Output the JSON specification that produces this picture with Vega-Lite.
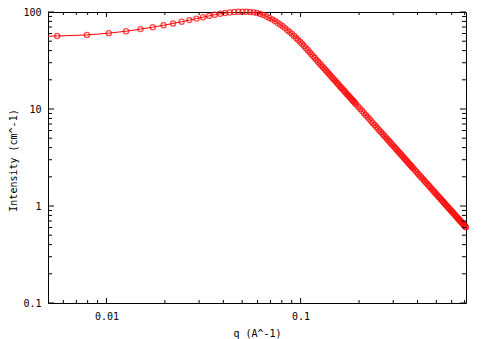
{
  "$schema": "https://vega.github.io/schema/vega-lite/v6.json",
  "autosize": "none",
  "width": 418,
  "height": 291,
  "padding": {"left": 48, "top": 12, "right": 18, "bottom": 36},
  "background": "white",
  "config": {
    "view": {"stroke": "#000000", "strokeWidth": 1},
    "axis": {
      "domain": false,
      "ticks": false,
      "labelColor": "#000000",
      "titleColor": "#000000",
      "labelFont": "DejaVu Sans Mono",
      "titleFont": "DejaVu Sans Mono",
      "labelFontSize": 10,
      "titleFontSize": 10,
      "titleFontWeight": "normal",
      "grid": false,
      "labelOverlap": false,
      "labelFlush": false
    }
  },
  "data": {
    "values": [
      {"q": 0.00323, "I": 55.3},
      {"q": 0.00558, "I": 56.6},
      {"q": 0.00793, "I": 58.0},
      {"q": 0.01028, "I": 60.5},
      {"q": 0.01263, "I": 63.4},
      {"q": 0.01498, "I": 66.6},
      {"q": 0.01733, "I": 69.8},
      {"q": 0.01968, "I": 73.0},
      {"q": 0.02203, "I": 76.2},
      {"q": 0.02438, "I": 79.4},
      {"q": 0.02673, "I": 82.5},
      {"q": 0.02908, "I": 85.5},
      {"q": 0.03143, "I": 88.4},
      {"q": 0.03378, "I": 91.2},
      {"q": 0.03613, "I": 93.7},
      {"q": 0.03848, "I": 95.9},
      {"q": 0.04083, "I": 97.6},
      {"q": 0.04318, "I": 99.0},
      {"q": 0.04553, "I": 100.0},
      {"q": 0.04788, "I": 100.6},
      {"q": 0.05023, "I": 100.8},
      {"q": 0.05258, "I": 100.6},
      {"q": 0.05493, "I": 100.0},
      {"q": 0.05728, "I": 99.2},
      {"q": 0.05963, "I": 97.9},
      {"q": 0.06198, "I": 95.6},
      {"q": 0.06433, "I": 93.0},
      {"q": 0.06668, "I": 89.8},
      {"q": 0.06903, "I": 86.8},
      {"q": 0.07138, "I": 84.0},
      {"q": 0.07373, "I": 80.7},
      {"q": 0.07608, "I": 77.4},
      {"q": 0.07843, "I": 74.3},
      {"q": 0.08078, "I": 71.5},
      {"q": 0.08313, "I": 68.2},
      {"q": 0.08548, "I": 65.1},
      {"q": 0.08783, "I": 62.2},
      {"q": 0.09018, "I": 59.5},
      {"q": 0.09253, "I": 56.7},
      {"q": 0.09488, "I": 53.9},
      {"q": 0.09723, "I": 51.4},
      {"q": 0.09958, "I": 49.0},
      {"q": 0.10193, "I": 46.8},
      {"q": 0.10428, "I": 44.6},
      {"q": 0.10663, "I": 42.4},
      {"q": 0.10898, "I": 40.4},
      {"q": 0.11133, "I": 38.5},
      {"q": 0.11368, "I": 36.7},
      {"q": 0.11603, "I": 35.1},
      {"q": 0.11838, "I": 33.6},
      {"q": 0.12073, "I": 32.1},
      {"q": 0.12308, "I": 30.7},
      {"q": 0.12543, "I": 29.5},
      {"q": 0.12778, "I": 28.3},
      {"q": 0.13013, "I": 27.1},
      {"q": 0.13248, "I": 26.1},
      {"q": 0.13483, "I": 25.1},
      {"q": 0.13718, "I": 24.1},
      {"q": 0.13953, "I": 23.2},
      {"q": 0.14188, "I": 22.4},
      {"q": 0.14423, "I": 21.5},
      {"q": 0.14658, "I": 20.8},
      {"q": 0.14893, "I": 20.05},
      {"q": 0.15128, "I": 19.4},
      {"q": 0.15363, "I": 18.7},
      {"q": 0.15598, "I": 18.1},
      {"q": 0.15833, "I": 17.5},
      {"q": 0.16068, "I": 16.9},
      {"q": 0.16303, "I": 16.4},
      {"q": 0.16538, "I": 15.85},
      {"q": 0.16773, "I": 15.4},
      {"q": 0.17008, "I": 14.9},
      {"q": 0.17243, "I": 14.4},
      {"q": 0.17478, "I": 14.0},
      {"q": 0.17713, "I": 13.6},
      {"q": 0.17948, "I": 13.2},
      {"q": 0.18183, "I": 12.8},
      {"q": 0.18418, "I": 12.45},
      {"q": 0.18653, "I": 12.1},
      {"q": 0.18888, "I": 11.8},
      {"q": 0.19123, "I": 11.45},
      {"q": 0.19358, "I": 11.1},
      {"q": 0.19828, "I": 10.56},
      {"q": 0.20298, "I": 10.02},
      {"q": 0.20768, "I": 9.52},
      {"q": 0.21238, "I": 9.05},
      {"q": 0.21708, "I": 8.62},
      {"q": 0.22178, "I": 8.21},
      {"q": 0.22648, "I": 7.83},
      {"q": 0.23118, "I": 7.48},
      {"q": 0.23588, "I": 7.15},
      {"q": 0.24058, "I": 6.84},
      {"q": 0.24528, "I": 6.55},
      {"q": 0.24998, "I": 6.28},
      {"q": 0.25468, "I": 6.02},
      {"q": 0.25938, "I": 5.78},
      {"q": 0.26408, "I": 5.55},
      {"q": 0.26878, "I": 5.34},
      {"q": 0.27348, "I": 5.13},
      {"q": 0.27818, "I": 4.94},
      {"q": 0.28288, "I": 4.76},
      {"q": 0.28758, "I": 4.59},
      {"q": 0.29228, "I": 4.42},
      {"q": 0.29698, "I": 4.27},
      {"q": 0.30168, "I": 4.12},
      {"q": 0.30638, "I": 3.98},
      {"q": 0.31108, "I": 3.85},
      {"q": 0.31578, "I": 3.72},
      {"q": 0.32048, "I": 3.60},
      {"q": 0.32518, "I": 3.48},
      {"q": 0.32988, "I": 3.37},
      {"q": 0.33458, "I": 3.27},
      {"q": 0.33928, "I": 3.17},
      {"q": 0.34398, "I": 3.07},
      {"q": 0.34868, "I": 2.98},
      {"q": 0.35338, "I": 2.89},
      {"q": 0.35808, "I": 2.80},
      {"q": 0.36278, "I": 2.72},
      {"q": 0.36748, "I": 2.65},
      {"q": 0.37218, "I": 2.57},
      {"q": 0.37688, "I": 2.50},
      {"q": 0.38158, "I": 2.43},
      {"q": 0.38863, "I": 2.335},
      {"q": 0.39568, "I": 2.243},
      {"q": 0.40273, "I": 2.156},
      {"q": 0.40978, "I": 2.074},
      {"q": 0.41683, "I": 1.996},
      {"q": 0.42388, "I": 1.922},
      {"q": 0.43093, "I": 1.852},
      {"q": 0.43798, "I": 1.786},
      {"q": 0.44503, "I": 1.723},
      {"q": 0.45208, "I": 1.664},
      {"q": 0.45913, "I": 1.607},
      {"q": 0.46618, "I": 1.553},
      {"q": 0.47323, "I": 1.502},
      {"q": 0.48028, "I": 1.452},
      {"q": 0.48733, "I": 1.406},
      {"q": 0.49438, "I": 1.361},
      {"q": 0.50143, "I": 1.318},
      {"q": 0.50848, "I": 1.278},
      {"q": 0.51553, "I": 1.239},
      {"q": 0.52258, "I": 1.202},
      {"q": 0.52963, "I": 1.166},
      {"q": 0.53668, "I": 1.132},
      {"q": 0.54373, "I": 1.100},
      {"q": 0.55078, "I": 1.068},
      {"q": 0.55783, "I": 1.038},
      {"q": 0.56488, "I": 1.0095},
      {"q": 0.57193, "I": 0.9818},
      {"q": 0.57898, "I": 0.9552},
      {"q": 0.58603, "I": 0.9296},
      {"q": 0.59308, "I": 0.9050},
      {"q": 0.60013, "I": 0.8815},
      {"q": 0.60718, "I": 0.8586},
      {"q": 0.61423, "I": 0.8366},
      {"q": 0.62128, "I": 0.8155},
      {"q": 0.62833, "I": 0.7951},
      {"q": 0.63538, "I": 0.7754},
      {"q": 0.64243, "I": 0.7565},
      {"q": 0.64948, "I": 0.7382},
      {"q": 0.65653, "I": 0.7205},
      {"q": 0.66358, "I": 0.7034},
      {"q": 0.67063, "I": 0.6870},
      {"q": 0.67768, "I": 0.6711},
      {"q": 0.68473, "I": 0.6557},
      {"q": 0.69178, "I": 0.6408},
      {"q": 0.69883, "I": 0.6264},
      {"q": 0.70588, "I": 0.6124},
      {"q": 0.71058, "I": 0.6025}
    ]
  },
  "layer": [
    {
      "mark": {"type": "line", "color": "#ff0000", "strokeWidth": 1, "clip": true},
      "encoding": {
        "x": {
          "field": "q", "type": "quantitative",
          "scale": {"type": "log", "domain": [0.005, 0.711], "nice": false},
          "axis": {
            "orient": "bottom",
            "values": [0.01, 0.1],
            "format": "~g",
            "labelPadding": 8,
            "title": "q (A^-1)",
            "titleY": 30,
            "titleBaseline": "middle"
          }
        },
        "y": {
          "field": "I", "type": "quantitative",
          "scale": {"type": "log", "domain": [0.1, 100], "nice": false},
          "axis": {
            "orient": "left",
            "values": [0.1, 1, 10, 100],
            "format": "~g",
            "labelPadding": 7,
            "title": "Intensity (cm^-1)",
            "titleX": -35,
            "titleY": 148,
            "titleAngle": -90,
            "titleAlign": "center",
            "titleBaseline": "middle"
          }
        }
      }
    },
    {
      "transform": [{"filter": "datum.q > 0.005"}],
      "mark": {"type": "point", "shape": "circle", "filled": false, "color": "#ff0000", "size": 26, "strokeWidth": 1.3},
      "encoding": {
        "x": {"field": "q", "type": "quantitative"},
        "y": {"field": "I", "type": "quantitative"}
      }
    },
    {
      "data": {"values": [{"v": 0.01}, {"v": 0.1}]},
      "mark": {"type": "rule", "color": "#000000", "strokeWidth": 1},
      "encoding": {
        "x": {"field": "v", "type": "quantitative"},
        "y": {"datum": 0.1, "type": "quantitative"},
        "y2": {"datum": 0.1126}
      }
    },
    {
      "data": {"values": [{"v": 0.01}, {"v": 0.1}]},
      "mark": {"type": "rule", "color": "#000000", "strokeWidth": 1},
      "encoding": {
        "x": {"field": "v", "type": "quantitative"},
        "y": {"datum": 100, "type": "quantitative"},
        "y2": {"datum": 88.8}
      }
    },
    {
      "data": {"values": [{"v": 0.006}, {"v": 0.007}, {"v": 0.008}, {"v": 0.009}, {"v": 0.02}, {"v": 0.03}, {"v": 0.04}, {"v": 0.05}, {"v": 0.06}, {"v": 0.07}, {"v": 0.08}, {"v": 0.09}, {"v": 0.2}, {"v": 0.3}, {"v": 0.4}, {"v": 0.5}, {"v": 0.6}, {"v": 0.7}]},
      "mark": {"type": "rule", "color": "#000000", "strokeWidth": 1},
      "encoding": {
        "x": {"field": "v", "type": "quantitative"},
        "y": {"datum": 0.1, "type": "quantitative"},
        "y2": {"datum": 0.1074}
      }
    },
    {
      "data": {"values": [{"v": 0.006}, {"v": 0.007}, {"v": 0.008}, {"v": 0.009}, {"v": 0.02}, {"v": 0.03}, {"v": 0.04}, {"v": 0.05}, {"v": 0.06}, {"v": 0.07}, {"v": 0.08}, {"v": 0.09}, {"v": 0.2}, {"v": 0.3}, {"v": 0.4}, {"v": 0.5}, {"v": 0.6}, {"v": 0.7}]},
      "mark": {"type": "rule", "color": "#000000", "strokeWidth": 1},
      "encoding": {
        "x": {"field": "v", "type": "quantitative"},
        "y": {"datum": 100, "type": "quantitative"},
        "y2": {"datum": 93.1}
      }
    },
    {
      "data": {"values": [{"v": 0.1}, {"v": 1}, {"v": 10}, {"v": 100}]},
      "mark": {"type": "rule", "color": "#000000", "strokeWidth": 1},
      "encoding": {
        "y": {"field": "v", "type": "quantitative"},
        "x": {"datum": 0.005, "type": "quantitative"},
        "x2": {"datum": 0.00537}
      }
    },
    {
      "data": {"values": [{"v": 0.1}, {"v": 1}, {"v": 10}, {"v": 100}]},
      "mark": {"type": "rule", "color": "#000000", "strokeWidth": 1},
      "encoding": {
        "y": {"field": "v", "type": "quantitative"},
        "x": {"datum": 0.711, "type": "quantitative"},
        "x2": {"datum": 0.662}
      }
    },
    {
      "data": {"values": [{"v": 0.2}, {"v": 0.3}, {"v": 0.4}, {"v": 0.5}, {"v": 0.6}, {"v": 0.7}, {"v": 0.8}, {"v": 0.9}, {"v": 2}, {"v": 3}, {"v": 4}, {"v": 5}, {"v": 6}, {"v": 7}, {"v": 8}, {"v": 9}, {"v": 20}, {"v": 30}, {"v": 40}, {"v": 50}, {"v": 60}, {"v": 70}, {"v": 80}, {"v": 90}]},
      "mark": {"type": "rule", "color": "#000000", "strokeWidth": 1},
      "encoding": {
        "y": {"field": "v", "type": "quantitative"},
        "x": {"datum": 0.005, "type": "quantitative"},
        "x2": {"datum": 0.005245}
      }
    },
    {
      "data": {"values": [{"v": 0.2}, {"v": 0.3}, {"v": 0.4}, {"v": 0.5}, {"v": 0.6}, {"v": 0.7}, {"v": 0.8}, {"v": 0.9}, {"v": 2}, {"v": 3}, {"v": 4}, {"v": 5}, {"v": 6}, {"v": 7}, {"v": 8}, {"v": 9}, {"v": 20}, {"v": 30}, {"v": 40}, {"v": 50}, {"v": 60}, {"v": 70}, {"v": 80}, {"v": 90}]},
      "mark": {"type": "rule", "color": "#000000", "strokeWidth": 1},
      "encoding": {
        "y": {"field": "v", "type": "quantitative"},
        "x": {"datum": 0.711, "type": "quantitative"},
        "x2": {"datum": 0.6778}
      }
    }
  ]
}
